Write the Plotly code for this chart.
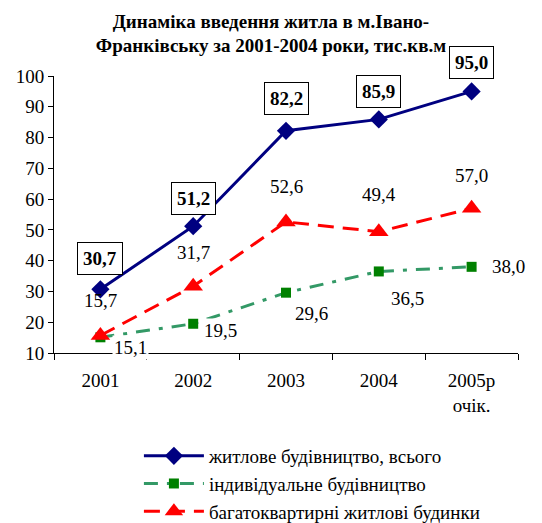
import plotly.graph_objects as go

# data
years = ['2001', '2002', '2003', '2004', '2005р<br>очік.']
total = [30.7, 51.2, 82.2, 85.9, 95.0]
individual = [15.1, 19.5, 29.6, 36.5, 38.0]
multi = [15.7, 31.7, 52.6, 49.4, 57.0]

names = ['житлове будівництво, всього', 'індивідуальне будівництво', 'багатоквартирні житлові будинки']

FONT = 'Times New Roman, Liberation Serif, serif'


def fmt(v):
    return f'{v:.1f}'.replace('.', ',')


fig = go.Figure()

fig.add_trace(go.Scatter(x=years, y=total, mode='lines+markers', name=names[0],
                         line=dict(color='#000080', width=3),
                         marker=dict(symbol='diamond', size=14, color='#000080')))
fig.add_trace(go.Scatter(x=years, y=individual, mode='lines+markers', name=names[1],
                         line=dict(color='#339966', width=3, dash='14px,9px,4px,9px'),
                         marker=dict(symbol='square', size=10, color='#008000')))
fig.add_trace(go.Scatter(x=years, y=multi, mode='lines+markers', name=names[2],
                         line=dict(color='#FF0000', width=3, dash='16px,9px'),
                         marker=dict(symbol='triangle-up', size=17, color='#FF0000')))

# data labels (pixel offsets from the point: right, down)
total_off = [(0, -31), (0, -28), (0, -32), (0, -28), (0, -29)]
multi_off = [(0, -35), (0, -34), (0, -35), (0, -37), (0, -33)]
indiv_off = [(30, 10), (27, 7), (25, 21), (29, 27), (37, 0)]

for i in range(len(years)):
    fig.add_annotation(x=i, y=total[i], text='<b>' + fmt(total[i]) + '</b>', showarrow=False,
                       xshift=total_off[i][0], yshift=-total_off[i][1],
                       bordercolor='black', borderwidth=1, borderpad=5, bgcolor='white',
                       font=dict(family=FONT, size=19, color='black'))
    fig.add_annotation(x=i, y=multi[i], text=fmt(multi[i]), showarrow=False,
                       xshift=multi_off[i][0], yshift=-multi_off[i][1],
                       font=dict(family=FONT, size=19, color='black'))
    fig.add_annotation(x=i, y=individual[i], text=fmt(individual[i]), showarrow=False,
                       xshift=indiv_off[i][0], yshift=-indiv_off[i][1], bgcolor='white',
                       font=dict(family=FONT, size=19, color='black'))

# page body adds ~8px margin, so the figure is 8px smaller and shifted
fig.update_layout(
    width=534, height=515,
    margin=dict(l=46, r=24, t=68, b=170, autoexpand=False),
    paper_bgcolor='white', plot_bgcolor='white',
    font=dict(family=FONT, size=19, color='black'),
    title=dict(text='<b>Динаміка введення житла в м.Івано-<br>Франківську за 2001-2004 роки, тис.кв.м</b>',
               x=0.4925, xref='container', xanchor='center', y=0.962, yanchor='top',
               font=dict(family=FONT, size=19, color='black')),
    showlegend=True,
    legend=dict(x=0.183, y=-0.303, xanchor='left', yanchor='top',
                font=dict(family=FONT, size=19, color='black'),
                tracegroupgap=0, itemwidth=60, bgcolor='rgba(0,0,0,0)'),
)

fig.update_xaxes(type='category', range=[-0.5, 4.5], showline=True, linecolor='black', linewidth=1,
                 ticks='outside', tickson='boundaries', ticklen=6, tickcolor='black',
                 showgrid=False, zeroline=False, ticklabelstandoff=10,
                 tickfont=dict(family=FONT, size=19))
fig.update_yaxes(range=[10, 100], dtick=10, showline=True, linecolor='black', linewidth=1,
                 ticks='outside', ticklen=5, tickcolor='black', showgrid=False, zeroline=False,
                 tickfont=dict(family=FONT, size=19))

fig.write_html('out.html')
